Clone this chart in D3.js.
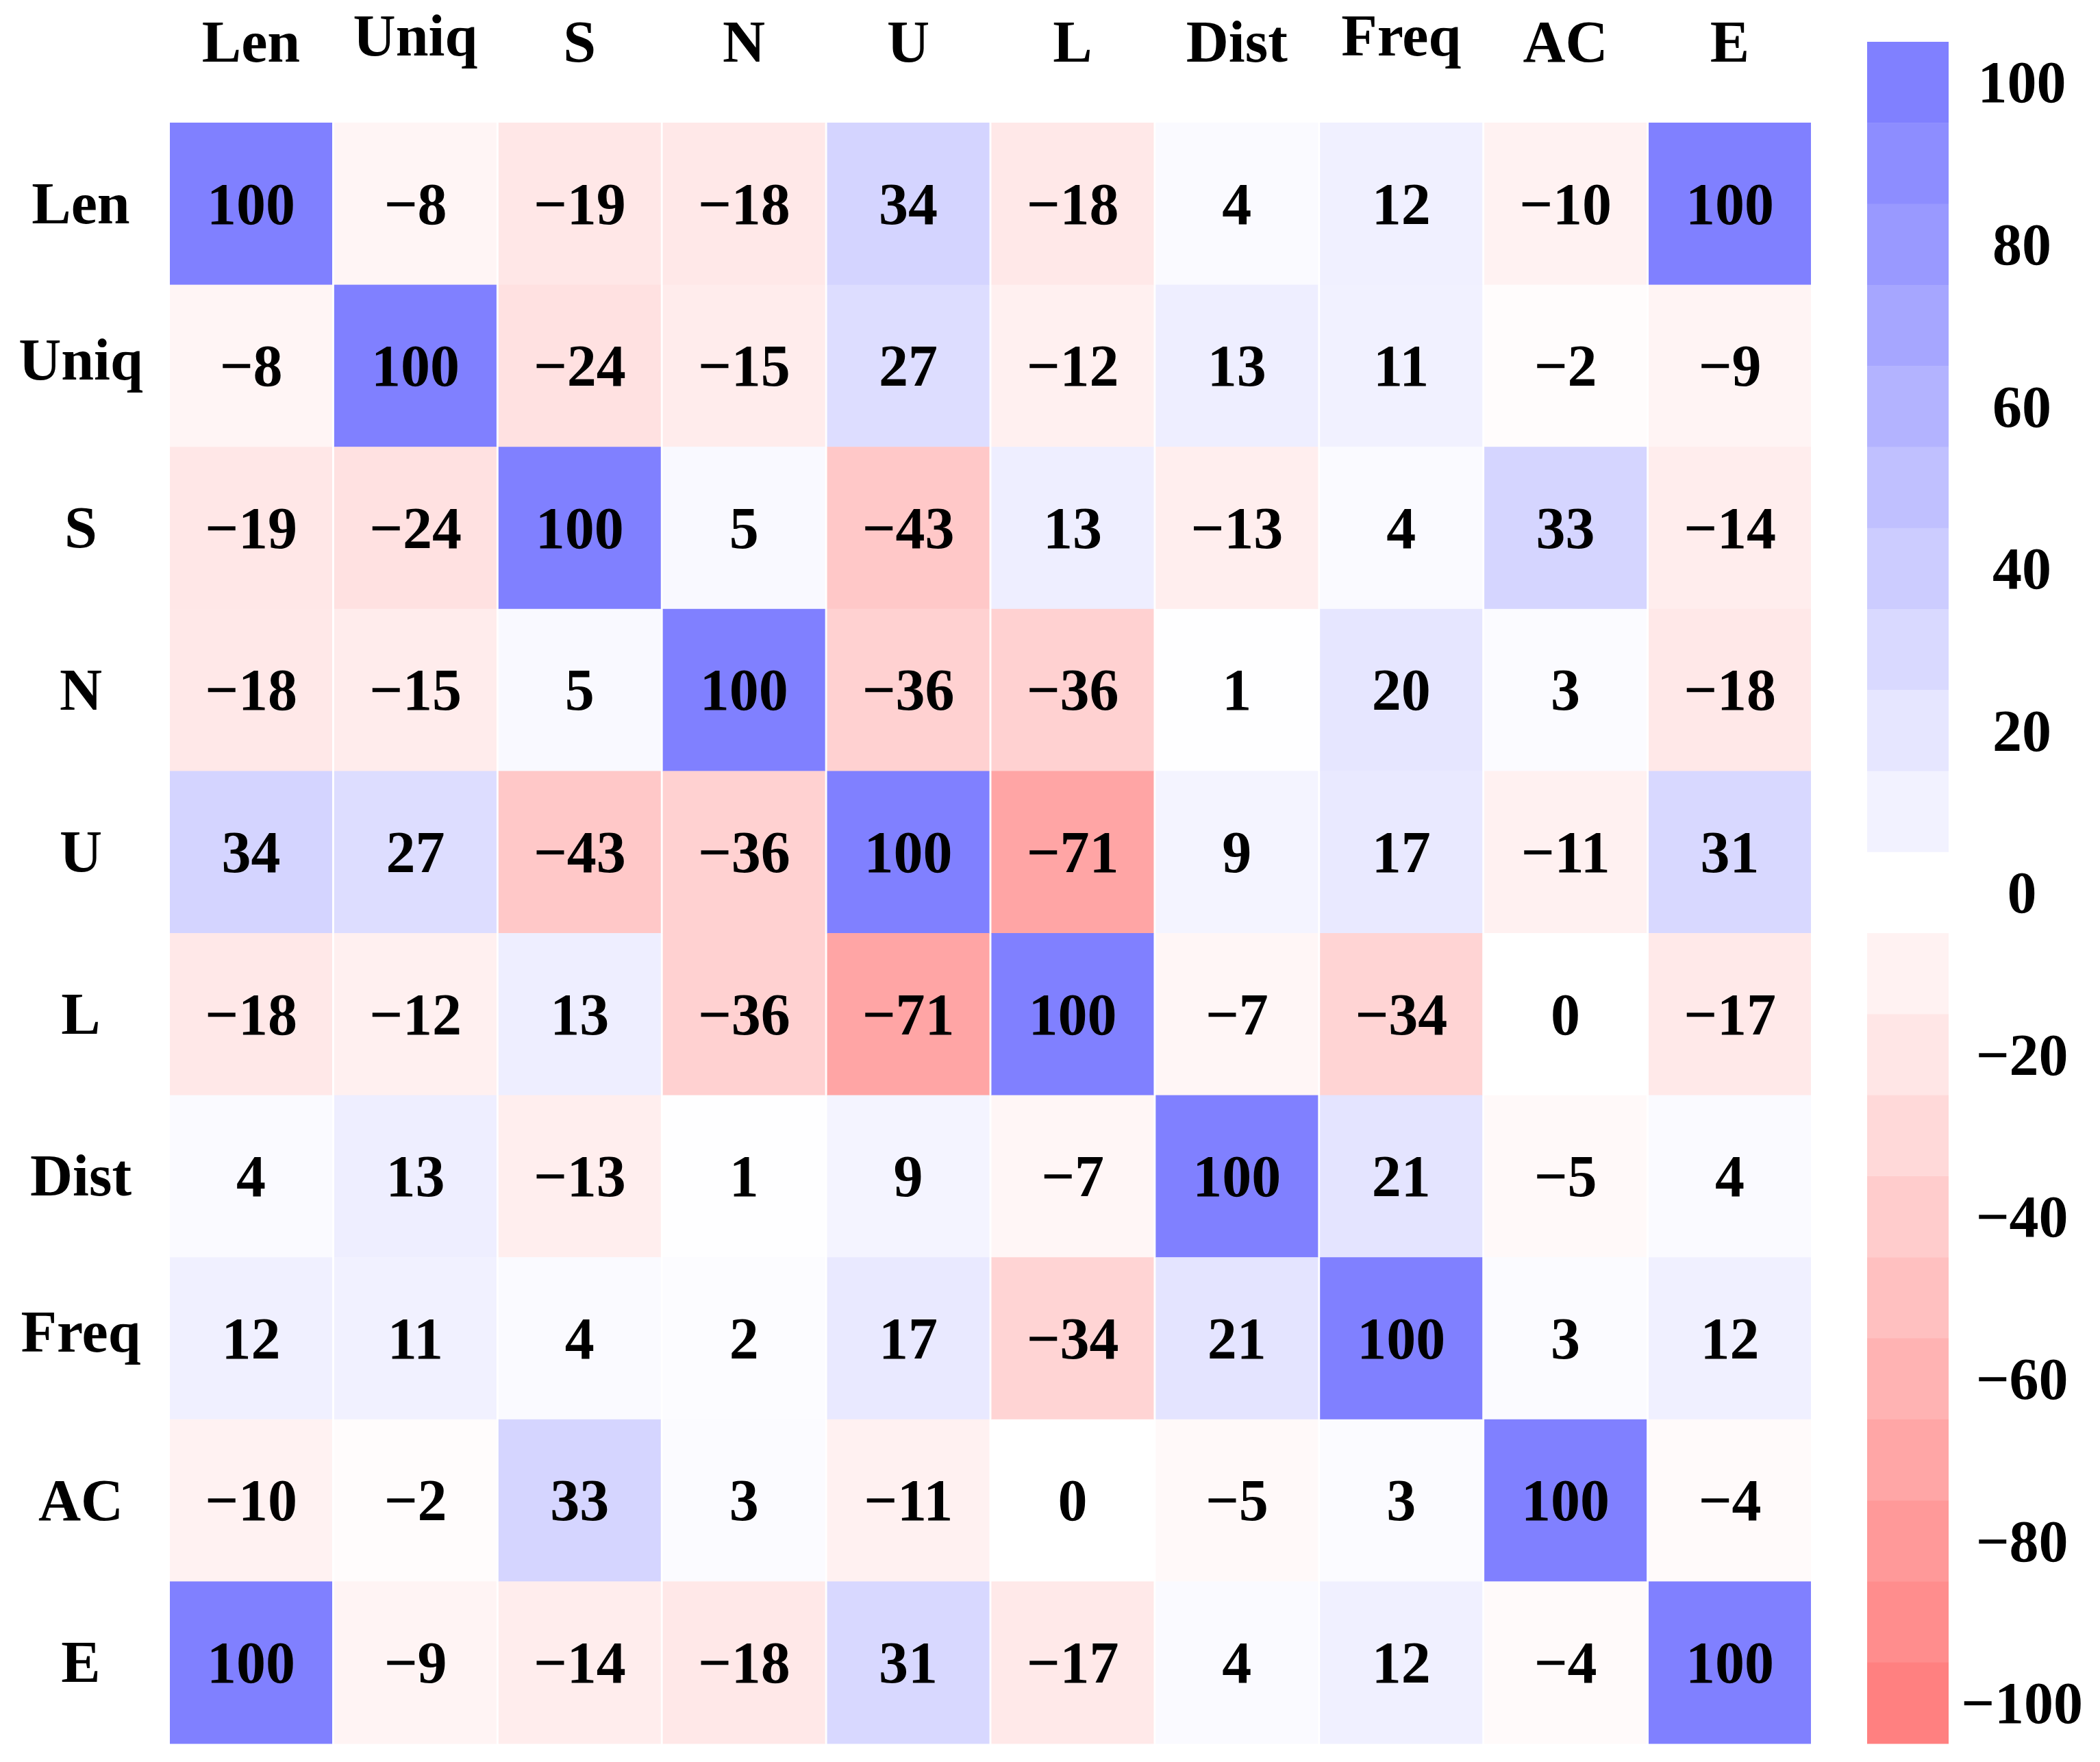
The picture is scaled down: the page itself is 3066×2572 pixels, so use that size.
<!DOCTYPE html>
<html><head><meta charset="utf-8">
<script src="https://cdn.jsdelivr.net/npm/d3@7"></script>
<style>html,body{margin:0;padding:0;background:#fff;}</style>
</head><body>
<svg id="chart" width="3066" height="2572" xmlns="http://www.w3.org/2000/svg"></svg>
<script>
// ---------- data ----------
const labels = ["Len", "Uniq", "S", "N", "U", "L", "Dist", "Freq", "AC", "E"];
const rowLen  = [100,  -8, -19, -18,  34, -18,   4,  12, -10, 100];
const rowUniq = [ -8, 100, -24, -15,  27, -12,  13,  11,  -2,  -9];
const rowS    = [-19, -24, 100,   5, -43,  13, -13,   4,  33, -14];
const rowN    = [-18, -15,   5, 100, -36, -36,   1,  20,   3, -18];
const rowU    = [ 34,  27, -43, -36, 100, -71,   9,  17, -11,  31];
const rowL    = [-18, -12,  13, -36, -71, 100,  -7, -34,   0, -17];
const rowDist = [  4,  13, -13,   1,   9,  -7, 100,  21,  -5,   4];
const rowFreq = [ 12,  11,   4,   2,  17, -34,  21, 100,   3,  12];
const rowAC   = [-10,  -2,  33,   3, -11,   0,  -5,   3, 100,  -4];
const rowE    = [100,  -9, -14, -18,  31, -17,   4,  12,  -4, 100];
const matrix = [rowLen, rowUniq, rowS, rowN, rowU, rowL, rowDist, rowFreq, rowAC, rowE];
const colorbarLevels = [100, 90, 80, 70, 60, 50, 40, 30, 20, 10, 0, -10, -20, -30, -40, -50, -60, -70, -80, -90, -100];
const colorbarTicks = [100, 80, 60, 40, 20, 0, -20, -40, -60, -80, -100];

// ---------- setup ----------
const svg = d3.select("#chart");
const FONT = "'Liberation Serif', 'Times New Roman', serif";
const FS = 86;
const CAP = 0.662 * FS;
const DESC = 0.2 * FS;
const hasDesc = s => /[gjpqy]/.test(s);
const fmt = v => v < 0 ? "\u2212" + Math.abs(v) : String(v);

const x = d3.scaleBand().domain(labels).range([248, 2644]).paddingInner(0.012);
const y = d3.scaleBand().domain(labels).range([179, 2545]);
const color = d3.scaleLinear().domain([-100, 0, 100]).range(["#ff8080", "#ffffff", "#8080ff"]);

const cells = [];
matrix.forEach((row, i) => row.forEach((v, j) => cells.push({r: labels[i], c: labels[j], v})));

// cells
svg.append("g").selectAll("rect").data(cells).join("rect")
  .attr("x", d => x(d.c)).attr("y", d => y(d.r))
  .attr("width", x.bandwidth()).attr("height", y.bandwidth() + 0.5)
  .attr("fill", d => color(d.v));

// cell text
svg.append("g").selectAll("text").data(cells).join("text")
  .attr("x", d => x(d.c) + x.bandwidth() / 2)
  .attr("y", d => y(d.r) + y.bandwidth() / 2 + 0.34 * FS)
  .attr("text-anchor", "middle")
  .attr("font-family", FONT).attr("font-weight", "bold").attr("font-size", FS)
  .attr("fill", "#000")
  .text(d => fmt(d.v));

// column labels (top)
svg.append("g").selectAll("text").data(labels).join("text")
  .attr("x", d => x(d) + x.bandwidth() / 2)
  .attr("y", d => 61.5 + CAP / 2 - (hasDesc(d) ? DESC / 2 : 0))
  .attr("text-anchor", "middle")
  .attr("font-family", FONT).attr("font-weight", "bold").attr("font-size", FS)
  .text(d => d);

// row labels (left)
svg.append("g").selectAll("text").data(labels).join("text")
  .attr("x", 118)
  .attr("y", d => y(d) + y.bandwidth() / 2 + CAP / 2 - (hasDesc(d) ? DESC / 2 : 0))
  .attr("text-anchor", "middle")
  .attr("font-family", FONT).attr("font-weight", "bold").attr("font-size", FS)
  .text(d => d);

// colorbar
const cb = d3.scaleBand().domain(colorbarLevels).range([61, 2545]);
const cbg = svg.append("g");
cbg.selectAll("rect").data(colorbarLevels).join("rect")
  .attr("x", 2726).attr("width", 119)
  .attr("y", d => cb(d)).attr("height", cb.bandwidth() + 0.5)
  .attr("fill", d => color(d));
cbg.selectAll("text").data(colorbarTicks).join("text")
  .attr("x", 2952)
  .attr("y", d => cb(d) + cb.bandwidth() / 2 + 0.34 * FS)
  .attr("text-anchor", "middle")
  .attr("font-family", FONT).attr("font-weight", "bold").attr("font-size", FS)
  .text(d => fmt(d));
</script>
</body></html>
